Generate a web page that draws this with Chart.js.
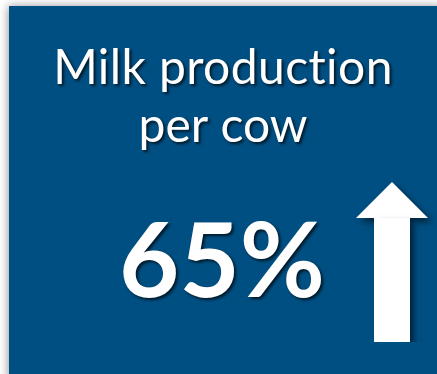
<!DOCTYPE html>
<html>
<head>
<meta charset="utf-8">
<script src="https://cdn.jsdelivr.net/npm/chart.js@4"></script>
<style>
  html, body { margin: 0; padding: 0; background: #ffffff; }
  #wrap { width: 437px; height: 374px; }
</style>
</head>
<body>
<div id="wrap"><canvas id="kpi" width="437" height="374"></canvas></div>
<script>
const titleLines = ["Milk production", "per cow"];
const categories = ["Milk production per cow"];
const changeValues = [65];

const PANEL_BLUE = "#004f82";

// panel background, shadow on the left and the headline text
const panelPlugin = {
  id: "panel",
  beforeDraw(chart) {
    const { ctx, width, height } = chart;
    ctx.save();
    ctx.fillStyle = "#ffffff";
    ctx.fillRect(0, 0, width, height);
    ctx.shadowColor = "rgba(0,0,0,0.4)";
    ctx.shadowBlur = 9;
    ctx.shadowOffsetX = -1;
    ctx.fillStyle = PANEL_BLUE;
    ctx.fillRect(9, 6, width, height);
    ctx.restore();
  },
  afterDraw(chart) {
    const { ctx } = chart;
    ctx.save();
    ctx.fillStyle = "#ffffff";
    ctx.textAlign = "center";
    ctx.textBaseline = "alphabetic";
    ctx.shadowColor = "rgba(0,0,0,0.7)";
    ctx.shadowBlur = 3;
    ctx.shadowOffsetX = 2;
    ctx.shadowOffsetY = 2;
    // a little spacing keeps "ti" from turning into a ligature
    ctx.letterSpacing = "0.4px";
    ctx.font = "400 48px Lato, sans-serif";
    ctx.fillText(titleLines[0], 223, 84);
    ctx.letterSpacing = "0px";
    ctx.fillText(titleLines[1], 223, 142);
    ctx.font = "700 104px Lato, sans-serif";
    ctx.fillText(`${changeValues[0]}%`, 222, 297);
    ctx.restore();
  },
};

// arrow head on top of the bar, shadow for the whole arrow
const arrowPlugin = {
  id: "arrowHead",
  beforeDatasetsDraw(chart) {
    const { ctx, chartArea } = chart;
    const bar = chart.getDatasetMeta(0).data[0];
    ctx.save();
    ctx.shadowColor = "rgba(0,0,0,0.55)";
    ctx.shadowBlur = 6;
    ctx.shadowOffsetX = 4;
    ctx.shadowOffsetY = 4;
    ctx.fillStyle = "#ffffff";
    ctx.beginPath();
    ctx.moveTo(chartArea.left, bar.y);
    ctx.lineTo((chartArea.left + chartArea.right) / 2, chartArea.top);
    ctx.lineTo(chartArea.right, bar.y);
    ctx.closePath();
    ctx.fill();
  },
  afterDatasetsDraw(chart) {
    chart.ctx.restore();
  },
};

new Chart(document.getElementById("kpi"), {
  type: "bar",
  data: {
    labels: categories,
    datasets: [
      {
        data: changeValues,
        backgroundColor: "#ffffff",
        borderWidth: 0,
        categoryPercentage: 1,
        barPercentage: 0.5,
      },
    ],
  },
  options: {
    responsive: false,
    animation: false,
    layout: {
      padding: { left: 356, right: 9, top: 182, bottom: 32 },
    },
    scales: {
      x: { display: false },
      y: { display: false, min: 0, max: (changeValues[0] * 160) / 124 },
    },
    plugins: {
      legend: { display: false },
      tooltip: { enabled: false },
    },
  },
  plugins: [panelPlugin, arrowPlugin],
});
</script>
</body>
</html>
